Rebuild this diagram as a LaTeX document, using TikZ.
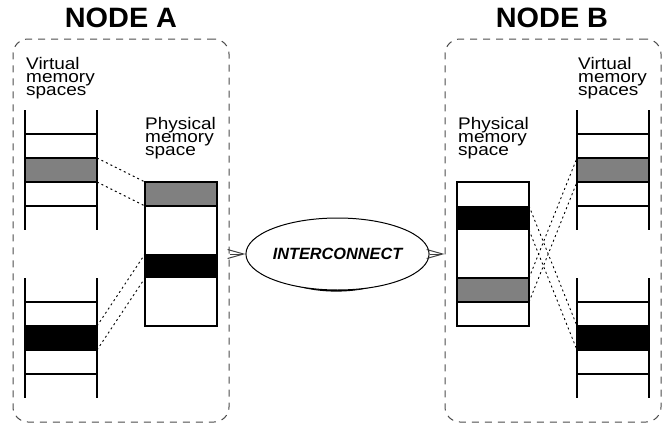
\documentclass[tikz,border=0pt]{standalone}
\usepackage{fontspec}
\setmainfont{Liberation Sans}
\newfontfamily\labelfont[FakeStretch=1.13]{Liberation Sans}
\newfontfamily\titlefont[FakeStretch=1.03]{Liberation Sans}
\usetikzlibrary{arrows.meta,shapes.geometric}

% one virtual memory space: two rails, rungs, and one mapped page
\newcommand\vmladder[3]{% #1 left x, #2 top y, #3 fill of the mapped page
  \fill[#3] (#1,#2+48) rectangle (#1+72,#2+72);
  \foreach \r in {24,48,72,96} \draw[rung] (#1,#2+\r) -- (#1+72,#2+\r);
  \draw[rail] (#1,#2) -- (#1,#2+120) (#1+72,#2) -- (#1+72,#2+120);
}

\begin{document}
\begin{tikzpicture}[x=1pt,y=-1pt,
  container/.style={draw=black!70, line width=1pt, dash pattern=on 7pt off 6pt,
    rounded corners=15pt, minimum width=216pt, minimum height=383pt, inner sep=0pt},
  title/.style={font={\titlefont\bfseries\fontsize{28pt}{28pt}\selectfont}, inner sep=0pt},
  lbl/.style={font={\labelfont\fontsize{16.8pt}{13.2pt}\selectfont}, align=left, inner sep=0pt},
  rail/.style={line width=2pt},
  rung/.style={line width=1.3pt},
  physbox/.style={draw, line width=2pt, minimum width=72pt, minimum height=144pt, inner sep=0pt},
  map/.style={line width=0.9pt, dash pattern=on 2pt off 3pt},
  link/.style={draw=black!75, line width=1pt, -{Straight Barb[length=16pt,width=9pt,line width=1pt]}},
  mapped/.style={fill=black!50},
  solid page/.style={fill=black}]

\useasboundingbox (0,0) rectangle (670,426);

% ---------- NODE A ----------
\node[title, anchor=base] (titleA) at (121,27) {NODE A};
\node[container] (boxA) at (121,230.5) {};
\node[lbl, anchor=north west] (virtA) at (26,57) {Virtual\\memory\\spaces};
\node[lbl, anchor=north west] (physlblA) at (145,117) {Physical\\memory\\space};

\vmladder{25}{110}{mapped}
\vmladder{25}{278}{solid page}

\fill[mapped] (145,182) rectangle (217,206);
\fill[solid page] (145,254) rectangle (217,278);
\draw[rung] (145,206) -- (217,206);
\node[physbox] (physA) at (181,254) {};

\coordinate (vA1) at (97,158);  \coordinate (vA2) at (97,182);
\coordinate (vA3) at (97,326);  \coordinate (vA4) at (97,350);
\coordinate (pA1) at (145,182); \coordinate (pA2) at (145,206);
\coordinate (pA3) at (145,254); \coordinate (pA4) at (145,278);
\draw[map] (vA1) -- (pA1);
\draw[map] (vA2) -- (pA2);
\draw[map] (vA3) -- (pA3);
\draw[map] (vA4) -- (pA4);

% ---------- NODE B ----------
\node[title, anchor=base] (titleB) at (552,27) {NODE B};
\node[container] (boxB) at (553,230.5) {};
\node[lbl, anchor=north west] (virtB) at (578,57) {Virtual\\memory\\spaces};
\node[lbl, anchor=north west] (physlblB) at (458,117) {Physical\\memory\\space};

\vmladder{577}{110}{mapped}
\vmladder{577}{278}{solid page}

\fill[solid page] (457,206) rectangle (529,230);
\fill[mapped] (457,278) rectangle (529,302);
\draw[rung] (457,278) -- (529,278) (457,302) -- (529,302);
\node[physbox] (physB) at (493,254) {};

\coordinate (pB1) at (529,206); \coordinate (pB2) at (529,230);
\coordinate (pB3) at (529,278); \coordinate (pB4) at (529,302);
\coordinate (vB1) at (577,326); \coordinate (vB2) at (577,350);
\coordinate (vB3) at (577,158); \coordinate (vB4) at (577,182);
\draw[map] (pB1) -- (vB1);
\draw[map] (pB2) -- (vB2);
\draw[map] (pB3) -- (vB3);
\draw[map] (pB4) -- (vB4);

% ---------- interconnect ----------
\fill[black] (336.3,255.6) ellipse [x radius=75pt, y radius=36pt];
\node[ellipse, draw, fill=white, line width=1pt, minimum width=150pt, minimum height=72pt,
  inner sep=0pt, font={\bfseries\itshape\fontsize{16.3pt}{16.3pt}\selectfont}]
  (ic) at (337.5,254) {INTERCONNECT};

\draw[link] (boxA.east |- ic) -- (ic.west);
\draw[link] (ic.east) -- (boxB.west |- ic);
\end{tikzpicture}
\end{document}
